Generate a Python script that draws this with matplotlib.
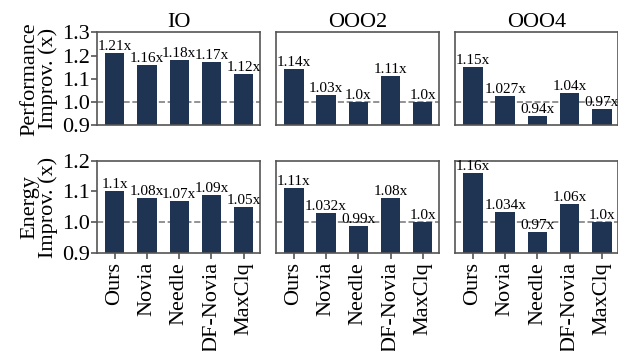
import numpy as np
import matplotlib.pyplot as plt

plt.rcParams['font.family'] = ['Liberation Serif', 'DejaVu Serif']

configs = ['IO', 'OOO2', 'OOO4']
methods = ['Ours', 'Novia', 'Needle', 'DF-Novia', 'MaxClq']

perf_io = [1.21, 1.16, 1.18, 1.17, 1.12]
perf_ooo2 = [1.14, 1.03, 1.0, 1.11, 1.0]
perf_ooo4 = [1.15, 1.027, 0.94, 1.04, 0.97]
perf_labels_io = ['1.21', '1.16', '1.18', '1.17', '1.12']
perf_labels_ooo2 = ['1.14', '1.03', '1.0', '1.11', '1.0']
perf_labels_ooo4 = ['1.15', '1.027', '0.94', '1.04', '0.97']

energy_io = [1.1, 1.08, 1.07, 1.09, 1.05]
energy_ooo2 = [1.11, 1.032, 0.99, 1.08, 1.0]
energy_ooo4 = [1.16, 1.034, 0.97, 1.06, 1.0]
energy_labels_io = ['1.1', '1.08', '1.07', '1.09', '1.05']
energy_labels_ooo2 = ['1.11', '1.032', '0.99', '1.08', '1.0']
energy_labels_ooo4 = ['1.16', '1.034', '0.97', '1.06', '1.0']

rows = [
    ([perf_io, perf_ooo2, perf_ooo4],
     [perf_labels_io, perf_labels_ooo2, perf_labels_ooo4],
     'Performance\nImprov. (x)', (0.9, 1.3), [0.9, 1.0, 1.1, 1.2, 1.3]),
    ([energy_io, energy_ooo2, energy_ooo4],
     [energy_labels_io, energy_labels_ooo2, energy_labels_ooo4],
     'Energy\nImprov. (x)', (0.9, 1.2), [0.9, 1.0, 1.1, 1.2]),
]

bar_color = '#1f3352'

fig, axs = plt.subplots(2, 3, figsize=(6.18, 3.51), dpi=100)
fig.subplots_adjust(left=0.157, right=1.0, top=0.908, bottom=0.278,
                    wspace=0.1, hspace=0.38)

x = np.arange(len(methods))
for r, (vals, labels, ylab, ylim, yticks) in enumerate(rows):
    for c in range(3):
        ax = axs[r, c]
        ax.bar(x, np.array(vals[c]) - ylim[0], bottom=ylim[0], width=0.6,
               color=bar_color, zorder=2)
        ax.axhline(1.0, color='gray', linestyle='--', linewidth=1.2, zorder=1)
        for xi, v, lab in zip(x, vals[c], labels[c]):
            ax.text(xi, v, lab + 'x', ha='center', va='bottom', fontsize=11)
        ax.set_ylim(*ylim)
        ax.set_xlim(-0.55, 4.5)
        ax.set_yticks(yticks)
        for s in ax.spines.values():
            s.set_color('#555555')
            s.set_linewidth(1.2)
        ax.tick_params(colors='#555555', labelcolor='black', width=1.2)
        if c == 0:
            ax.set_ylabel(ylab, fontsize=16, labelpad=3, linespacing=0.95)
            ax.tick_params(axis='y', labelsize=16, length=4, pad=1)
        else:
            ax.tick_params(axis='y', left=False, labelleft=False)
        if r == 0:
            ax.set_title(configs[c], fontsize=16, pad=4)
            ax.tick_params(axis='x', bottom=False, labelbottom=False)
        else:
            ax.set_xticks(x)
            ax.set_xticklabels(methods, rotation=90, fontsize=16)
            ax.tick_params(axis='x', length=4, pad=2)

fig.savefig('out.png')
